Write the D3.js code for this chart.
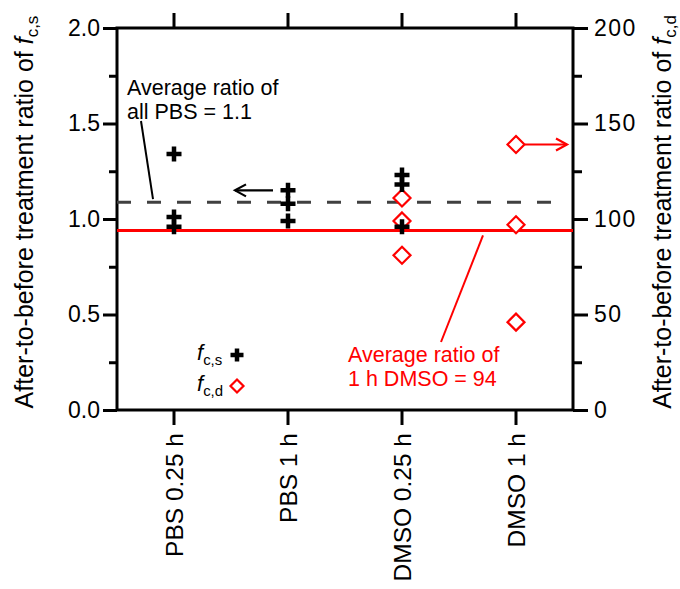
<!DOCTYPE html>
<html>
<head>
<meta charset="utf-8">
<script src="https://cdn.jsdelivr.net/npm/d3@7"></script>
<style>
  html, body { margin: 0; padding: 0; background: #fff; }
  svg { display: block; font-family: "Liberation Sans", Arial, Helvetica, sans-serif; }
</style>
</head>
<body>
<svg id="chart" width="680" height="589"></svg>
<script>
// Treatment groups along the x axis
const categories = ["PBS 0.25 h", "PBS 1 h", "DMSO 0.25 h", "DMSO 1 h"];

// After-to-before ratio of f_c,s (left axis), one list per group
const fcsValues = [
  [1.34, 1.01, 0.96],
  [1.15, 1.08, 0.99],
  [1.23, 1.18, 0.96],
  []
];

// After-to-before ratio of f_c,d (right axis), one list per group
const fcdValues = [
  [],
  [],
  [111, 99, 81],
  [139, 97, 46]
];

// Axis ticks
const leftTicks = [0, 0.5, 1.0, 1.5, 2.0];
const leftMinor = [0.25, 0.75, 1.25, 1.75];
const rightTicks = [0, 50, 100, 150, 200];
const rightMinor = [25, 75, 125, 175];

// Averages shown as reference lines
const pbsAverage = d3.mean(fcsValues.slice(0, 2).flat());
const dmso1hAverage = d3.mean(fcdValues[3]);

const RED = "#ff0000";
const svg = d3.select("#chart");

const frame = { left: 117, right: 573, top: 28, bottom: 410 };

const x = d3.scaleBand().domain(categories).range([frame.left, frame.right]);
const cx = c => x(c) + x.bandwidth() / 2;
const yL = d3.scaleLinear().domain([0, 2]).range([frame.bottom, frame.top]);
const yR = d3.scaleLinear().domain([0, 200]).range([frame.bottom, frame.top]);

function styleAxis(g) {
  g.select(".domain").remove();
  g.selectAll(".tick line").attr("stroke", "#000").attr("stroke-width", 3);
  g.selectAll(".tick text").attr("fill", "#000");
}

// Left axis: major ticks with labels, minor ticks without
svg.append("g")
  .attr("transform", `translate(${frame.left},0)`)
  .call(d3.axisLeft(yL).tickValues(leftTicks).tickSize(14).tickPadding(3)
    .tickFormat(d3.format(".1f")))
  .call(styleAxis)
  .call(g => g.selectAll(".tick text").attr("font-size", 23));
svg.append("g")
  .attr("transform", `translate(${frame.left},0)`)
  .call(d3.axisLeft(yL).tickValues(leftMinor).tickSize(8).tickFormat(""))
  .call(styleAxis);

// Right axis
svg.append("g")
  .attr("transform", `translate(${frame.right},0)`)
  .call(d3.axisRight(yR).tickValues(rightTicks).tickSize(15).tickPadding(6)
    .tickFormat(d3.format("d")))
  .call(styleAxis)
  .call(g => g.selectAll(".tick text").attr("font-size", 23).attr("letter-spacing", 1.5));
svg.append("g")
  .attr("transform", `translate(${frame.right},0)`)
  .call(d3.axisRight(yR).tickValues(rightMinor).tickSize(9).tickFormat(""))
  .call(styleAxis);

// Top axis: category ticks only
svg.append("g")
  .attr("transform", `translate(0,${frame.top})`)
  .call(d3.axisTop(x).tickSize(15).tickFormat(""))
  .call(styleAxis);

// Bottom axis: rotated category labels
svg.append("g")
  .attr("transform", `translate(0,${frame.bottom})`)
  .call(d3.axisBottom(x).tickSize(15).tickPadding(0))
  .call(styleAxis)
  .call(g => g.selectAll(".tick text")
    .attr("font-size", 24.5)
    .attr("text-anchor", "end")
    .attr("transform", "translate(0,23) rotate(-90)")
    .attr("x", 0).attr("y", 0).attr("dy", "0.36em"));

// Plot frame
svg.append("rect")
  .attr("x", frame.left).attr("y", frame.top)
  .attr("width", frame.right - frame.left).attr("height", frame.bottom - frame.top)
  .attr("fill", "none").attr("stroke", "#000").attr("stroke-width", 3);

// Reference lines
svg.append("line")
  .attr("x1", frame.left).attr("x2", frame.right - 16)
  .attr("y1", yL(pbsAverage)).attr("y2", yL(pbsAverage))
  .attr("stroke", "#404040").attr("stroke-width", 3)
  .attr("stroke-dasharray", "14 16");
svg.append("line")
  .attr("x1", frame.left).attr("x2", frame.right)
  .attr("y1", yR(dmso1hAverage)).attr("y2", yR(dmso1hAverage))
  .attr("stroke", RED).attr("stroke-width", 3);

// Marker shapes
const diamond = r => `M0,${-r}L${r},0L0,${r}L${-r},0Z`;
const plus = r => `M${-r},0H${r}M0,${-r}V${r}`;

// f_c,d diamonds (right axis)
const fcdPoints = categories.flatMap((c, i) => fcdValues[i].map(v => ({ c, v })));
svg.append("g").selectAll("path")
  .data(fcdPoints).join("path")
  .attr("transform", d => `translate(${cx(d.c)},${yR(d.v)})`)
  .attr("d", diamond(8.5))
  .attr("fill", "#fff").attr("stroke", RED).attr("stroke-width", 2.2);

// f_c,s crosses (left axis)
const fcsPoints = categories.flatMap((c, i) => fcsValues[i].map(v => ({ c, v })));
svg.append("g").selectAll("path")
  .data(fcsPoints).join("path")
  .attr("transform", d => `translate(${cx(d.c)},${yL(d.v)})`)
  .attr("d", plus(7.5))
  .attr("fill", "none").attr("stroke", "#000").attr("stroke-width", 4.5);

// Axis direction arrows
function arrow(x1, x2, y, color) {
  const dir = Math.sign(x2 - x1);
  const g = svg.append("g").attr("stroke", color).attr("stroke-width", 2.2).attr("fill", "none");
  g.append("line").attr("x1", x1).attr("x2", x2).attr("y1", y).attr("y2", y);
  g.append("path")
    .attr("d", `M${x2 - dir * 11},${y - 6}L${x2},${y}L${x2 - dir * 11},${y + 6}`);
}
arrow(cx(categories[1]) - 15, cx(categories[1]) - 53, yL(fcsValues[1][0]), "#000");
arrow(cx(categories[3]) + 9, frame.right - 6, yR(fcdValues[3][0]), RED);

// Annotations
const fmt1 = d3.format(".1f");
const ann1 = svg.append("text").attr("font-size", 21.5).attr("fill", "#000");
ann1.append("tspan").attr("x", 127).attr("y", 95).text("Average ratio of");
ann1.append("tspan").attr("x", 127).attr("y", 119).text(`all PBS = ${fmt1(pbsAverage)}`);
svg.append("line")
  .attr("x1", 141).attr("y1", 121).attr("x2", 153).attr("y2", yL(pbsAverage) - 3)
  .attr("stroke", "#000").attr("stroke-width", 2);

const ann2 = svg.append("text").attr("font-size", 21.5).attr("fill", RED);
ann2.append("tspan").attr("x", 348).attr("y", 362).text("Average ratio of");
ann2.append("tspan").attr("x", 348).attr("y", 386).text(`1 h DMSO = ${d3.format("d")(dmso1hAverage)}`);
svg.append("line")
  .attr("x1", 483).attr("y1", yR(dmso1hAverage) + 5).attr("x2", 441).attr("y2", 342)
  .attr("stroke", RED).attr("stroke-width", 2);

// Legend
function symbolLabel(g, sub) {
  g.append("tspan").attr("font-style", "italic").text("f");
  g.append("tspan").attr("font-size", "0.68em").attr("dy", "0.32em").text(sub);
}
const leg = svg.append("g");
symbolLabel(leg.append("text").attr("x", 197).attr("y", 360).attr("font-size", 22), "c,s");
symbolLabel(leg.append("text").attr("x", 197).attr("y", 391).attr("font-size", 22), "c,d");
leg.append("path").attr("transform", "translate(237,355)").attr("d", plus(6.5))
  .attr("stroke", "#000").attr("stroke-width", 4.5).attr("fill", "none");
leg.append("path").attr("transform", "translate(237,386)").attr("d", diamond(6.5))
  .attr("stroke", RED).attr("stroke-width", 2.2).attr("fill", "#fff");

// Axis titles
function axisTitle(xPos, sub) {
  const t = svg.append("text")
    .attr("transform", `translate(${xPos},212) rotate(-90)`)
    .attr("text-anchor", "middle").attr("font-size", 25).attr("fill", "#000");
  t.append("tspan").text("After-to-before treatment ratio of ");
  symbolLabel(t, sub);
}
axisTitle(33, "c,s");
axisTitle(671, "c,d");
</script>
</body>
</html>
